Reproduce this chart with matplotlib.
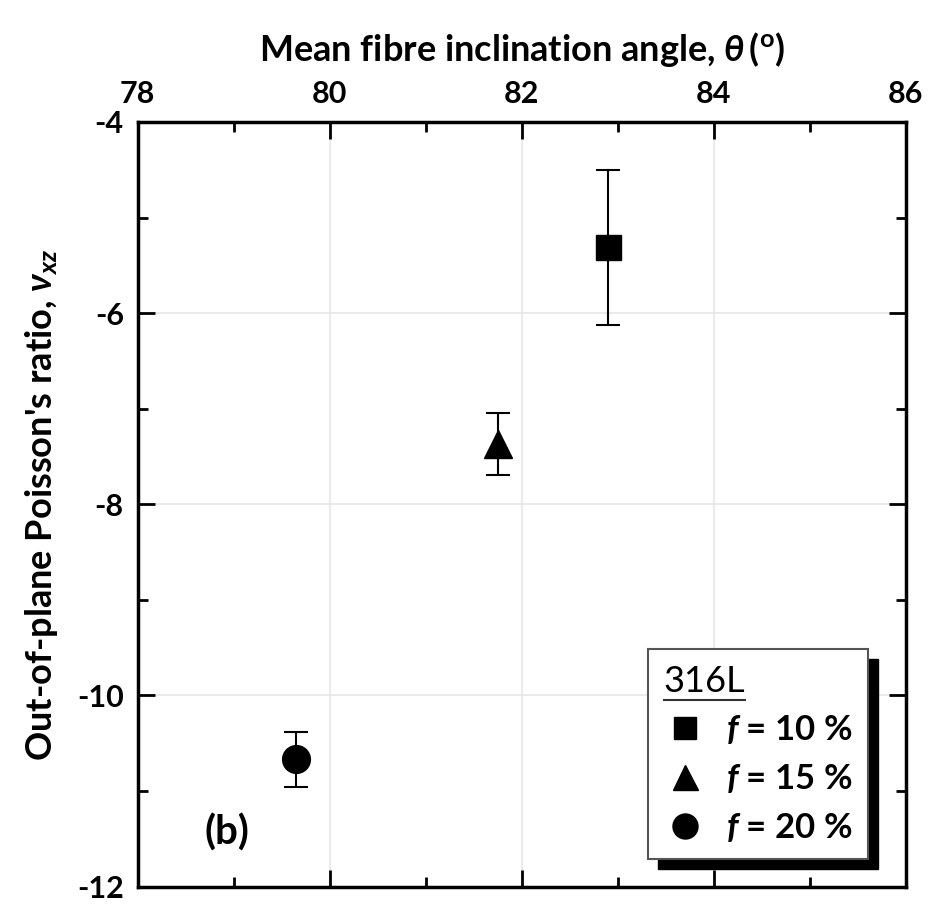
import numpy as np
import matplotlib
matplotlib.use("Agg")
import matplotlib.pyplot as plt
from matplotlib.patches import Rectangle
from matplotlib.lines import Line2D

plt.rcParams.update({
    'font.family': ['Lato', 'DejaVu Sans'],
    'font.weight': 'bold',
    'axes.labelweight': 'bold',
    'axes.unicode_minus': False,
    'font.size': 24,
    'mathtext.fontset': 'custom',
    'mathtext.rm': 'Lato:bold',
    'mathtext.it': 'Lato:bold:italic',
    'mathtext.bf': 'Lato:bold',
})

# datos
fracciones = ['10', '15', '20']
angulo = [82.9, 81.75, 79.65]
poisson = [-5.31, -7.37, -10.67]
error = [0.81, 0.32, 0.29]
marcadores = ['s', '^', 'o']
tam = [18, 20, 20]

fig = plt.figure(figsize=(9.3, 9.07), dpi=100)
ax = fig.add_axes([0.148, 0.0225, 0.826, 0.843])

handles = []
for f, x, y, e, m, s in zip(fracciones, angulo, poisson, error, marcadores, tam):
    ax.errorbar(x, y, yerr=e, fmt='none', ecolor='black', elinewidth=1.5,
                capsize=8.5, capthick=1.5, zorder=3)
    h, = ax.plot(x, y, marker=m, ms=s, color='black', ls='none', zorder=4,
                 label='$f$ = %s %%' % f)
    handles.append(h)

ax.set_xlim(78, 86)
ax.set_ylim(-12, -4)
ax.set_xticks(np.arange(78, 87, 2))
ax.set_yticks(np.arange(-12, -3, 2))
ax.set_xticks(np.arange(79, 86, 2), minor=True)
ax.set_yticks(np.arange(-11, -4, 2), minor=True)
ax.xaxis.tick_top()
ax.xaxis.set_label_position('top')
ax.tick_params(which='both', direction='in', top=True, bottom=True,
               left=True, right=True, width=2)
ax.tick_params(which='major', length=12, labelsize=22, pad=10)
ax.tick_params(which='minor', length=7)
for lab in ax.get_xticklabels() + ax.get_yticklabels():
    lab.set_fontweight('bold')
for sp in ax.spines.values():
    sp.set_linewidth(2.5)
ax.grid(True, which='major', color='#e6e6e6', lw=1.2, zorder=0)

ax.set_xlabel(r'Mean fibre inclination angle, $\theta\,(^{\rm o})$',
              fontsize=26, fontweight='bold', labelpad=14)
ax.set_ylabel(r"Out-of-plane Poisson's ratio, $\nu_{xz}$", fontsize=26,
              fontweight='bold', labelpad=12)

ax.text(0.087, 0.055, '(b)', transform=ax.transAxes, fontsize=29,
        fontweight='bold')

leg = ax.legend(handles=handles, loc='lower right', title='316L',
                bbox_to_anchor=(0.974, 0.013), frameon=True, fancybox=False,
                edgecolor='#555555', framealpha=1, fontsize=25,
                title_fontsize=26, markerscale=0.9, handletextpad=0.6,
                labelspacing=0.45, borderpad=0.45, handlelength=1.2)
leg._legend_box.align = 'left'
leg.get_title().set_fontweight('normal')
leg.get_frame().set_linewidth(1.5)
leg.set_zorder(10)

# sombra negra desplazada detras de la leyenda y subrayado del titulo
fig.canvas.draw()
inv = fig.transFigure.inverted()
bb = leg.get_window_extent().transformed(inv)
dx, dy = 10 / 930, 10 / 907
sombra = Rectangle((bb.x0 + dx, bb.y0 - dy), bb.width, bb.height,
                   transform=fig.transFigure, color='black', zorder=9)
ax.add_artist(sombra)
sombra.set_clip_on(False)

tb = leg.get_title().get_window_extent().transformed(inv)
sub = Line2D([tb.x0, tb.x1], [tb.y0 - 2 / 907] * 2, transform=fig.transFigure,
             color='#333333', lw=1.5, zorder=11)
fig.add_artist(sub)

fig.savefig('out.png', dpi=100)
